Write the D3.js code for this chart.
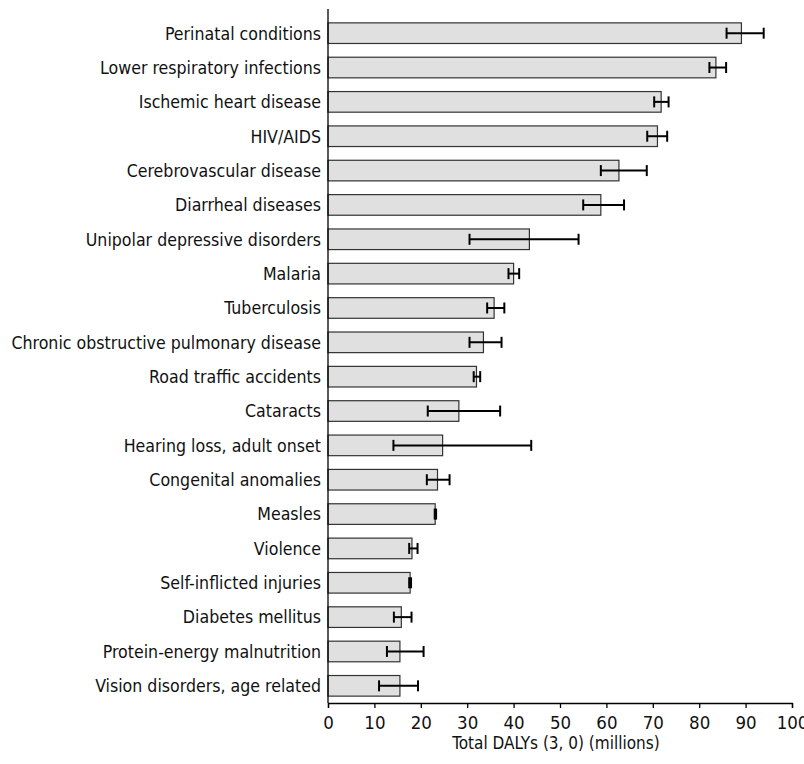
<!DOCTYPE html>
<html>
<head>
<meta charset="utf-8">
<script src="https://cdn.jsdelivr.net/npm/d3@7"></script>
<style>
    body { margin: 0; background: #fff; }
    svg text { font-family: "Liberation Sans Narrow", "DejaVu Sans Condensed", sans-serif; fill: #111; }
</style>
</head>
<body>
<div id="chart"></div>
<script>
"use strict";

const causes = [
    "Perinatal conditions",
    "Lower respiratory infections",
    "Ischemic heart disease",
    "HIV/AIDS",
    "Cerebrovascular disease",
    "Diarrheal diseases",
    "Unipolar depressive disorders",
    "Malaria",
    "Tuberculosis",
    "Chronic obstructive pulmonary disease",
    "Road traffic accidents",
    "Cataracts",
    "Hearing loss, adult onset",
    "Congenital anomalies",
    "Measles",
    "Violence",
    "Self-inflicted injuries",
    "Diabetes mellitus",
    "Protein-energy malnutrition",
    "Vision disorders, age related"
];

// total DALYs (millions)
const dalys = [89.1, 83.6, 71.8, 71.0, 62.7, 58.8, 43.4, 40.0, 35.8, 33.5,
    32.0, 28.2, 24.7, 23.6, 23.1, 18.1, 17.7, 15.8, 15.5, 15.5];
// uncertainty range
const lower = [85.9, 82.2, 70.3, 68.8, 58.8, 55.0, 30.5, 38.9, 34.3, 30.5,
    31.4, 21.5, 14.1, 21.3, 23.0, 17.5, 17.5, 14.2, 12.7, 11.0];
const upper = [93.9, 85.8, 73.4, 73.1, 68.7, 63.8, 54.0, 41.2, 38.0, 37.4,
    32.8, 37.1, 43.8, 26.2, 23.3, 19.3, 17.9, 18.0, 20.6, 19.4];

const xTicks = [0, 10, 20, 30, 40, 50, 60, 70, 80, 90, 100];
const xTitle = "Total DALYs (3, 0) (millions)";

const width = 804, height = 764;
const margin = {top: 16, right: 12, bottom: 61, left: 328};

const rows = causes.map((c, i) => ({cause: c, value: dalys[i], lo: lower[i], hi: upper[i]}));

const svg = d3.select("#chart").append("svg")
    .attr("width", width).attr("height", height);

const x = d3.scaleLinear().domain([0, 100]).range([margin.left, width - margin.right]);
const y = d3.scaleBand().domain(causes)
    .range([margin.top, height - margin.bottom])
    .paddingInner(0.4).paddingOuter(0.2);

// bars
svg.append("g").selectAll("rect").data(rows).join("rect")
    .attr("x", x(0))
    .attr("y", d => y(d.cause))
    .attr("width", d => x(d.value) - x(0))
    .attr("height", y.bandwidth())
    .attr("fill", "#e0e0e0")
    .attr("stroke", "#333")
    .attr("stroke-width", 1.2);

// error bars
const err = svg.append("g").attr("stroke", "#000").attr("stroke-width", 2);
const cap = 5.5;
rows.forEach(d => {
    const cy = y(d.cause) + y.bandwidth() / 2;
    err.append("line").attr("x1", x(d.lo)).attr("x2", x(d.hi)).attr("y1", cy).attr("y2", cy);
    err.append("line").attr("x1", x(d.lo)).attr("x2", x(d.lo)).attr("y1", cy - cap).attr("y2", cy + cap);
    err.append("line").attr("x1", x(d.hi)).attr("x2", x(d.hi)).attr("y1", cy - cap).attr("y2", cy + cap);
});

// category labels
svg.append("g").selectAll("text").data(rows).join("text")
    .attr("x", x(0) - 7)
    .attr("y", d => y(d.cause) + y.bandwidth() / 2)
    .attr("dy", "0.36em")
    .attr("text-anchor", "end")
    .attr("font-size", 17.6)
    .text(d => d.cause);

// x axis
const xAxis = svg.append("g")
    .attr("transform", `translate(0,${height - margin.bottom})`)
    .call(d3.axisBottom(x).tickValues(xTicks).tickSize(5).tickPadding(8));
xAxis.select(".domain").attr("stroke", "#000").attr("stroke-width", 1.3);
xAxis.selectAll(".tick line").attr("stroke", "#000").attr("stroke-width", 1.3);
xAxis.selectAll(".tick text").attr("font-size", 18.5).attr("font-family", null).attr("fill", "#111");

// y axis line
svg.append("line")
    .attr("x1", x(0)).attr("x2", x(0))
    .attr("y1", 9).attr("y2", height - margin.bottom)
    .attr("stroke", "#000").attr("stroke-width", 1.3);

svg.append("text")
    .attr("x", (x(0) + x(100)) / 2 - 4)
    .attr("y", height - 15)
    .attr("text-anchor", "middle")
    .attr("font-size", 17)
    .text(xTitle);
</script>
</body>
</html>
